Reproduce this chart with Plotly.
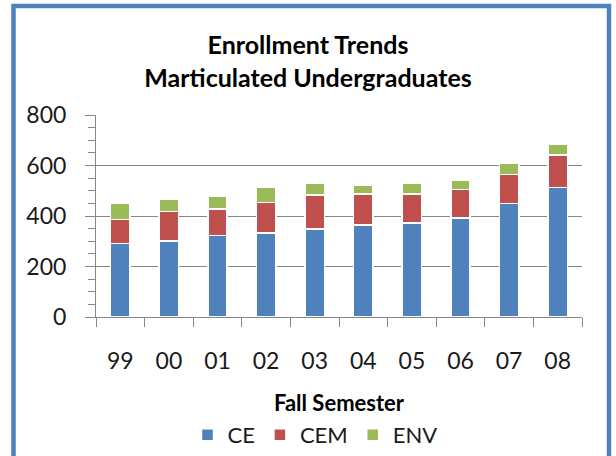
import plotly.graph_objects as go

semesters = ["99", "00", "01", "02", "03", "04", "05", "06", "07", "08"]
ce = [292, 301, 322, 333, 348, 364, 372, 393, 449, 512]
cem = [95, 116, 105, 121, 135, 124, 116, 111, 116, 130]
env = [64, 51, 51, 61, 47, 35, 40, 36, 45, 44]

series_names = ["CE", "CEM", "ENV"]
series_values = [ce, cem, env]
series_colors = ["#4F81BD", "#C0504D", "#9BBB59"]

W, H = 616, 456
L, R, T, B = 96, 34, 115, 139
pw, ph = W - L - R, H - T - B

FONT = "Lato"
GRID = "#868686"

fig = go.Figure()
for name, vals, col in zip(series_names, series_values, series_colors):
    fig.add_trace(go.Bar(
        x=semesters, y=vals, name=name,
        marker=dict(color=col, line=dict(color="white", width=1.5)),
    ))

def px_x(p):
    return (p - L) / pw

def px_y(p):
    return (H - B - p) / ph

fig.update_layout(
    width=W, height=H,
    margin=dict(l=L, r=R, t=T, b=B, autoexpand=False),
    barmode="stack",
    bargap=0.6,
    plot_bgcolor="white",
    paper_bgcolor="white",
    font=dict(family=FONT, color="#000000"),
    title=dict(
        text="<b>Enrollment Trends</b><br><b>Marticulated Undergraduates</b>",
        x=0.5, xref="container", xanchor="center",
        y=1 - 54 / H, yref="container", yanchor="top",
        font=dict(size=25, family=FONT, color="#000000"),
        automargin=False,
    ),
    xaxis=dict(
        automargin=False,
        showline=True, linecolor=GRID, linewidth=1,
        ticks="outside", tickson="boundaries", ticklen=9, tickcolor=GRID,
        tickfont=dict(size=23, family=FONT, color="#1a1a1a"),
        ticklabelstandoff=23,
        title=dict(text="<b>Fall Semester</b>", font=dict(size=22, family=FONT, color="#000000"), standoff=23),
        showgrid=False,
    ),
    yaxis=dict(
        automargin=False,
        range=[0, 800], dtick=200, tick0=0,
        showline=True, linecolor=GRID, linewidth=1,
        ticks="outside", ticklen=10, tickcolor=GRID,
        showgrid=True, gridcolor=GRID, gridwidth=1,
        zeroline=False,
        tickfont=dict(size=23, family=FONT, color="#1a1a1a"),
        ticklabelstandoff=14,
        minor=dict(dtick=50, ticks="outside", ticklen=7, tickcolor=GRID, showgrid=False),
    ),
    yaxis2=dict(
        automargin=False,
        range=[0, 800], dtick=200, tick0=0, overlaying="y", anchor="x", side="left",
        showline=False, showgrid=False, zeroline=False, showticklabels=False, ticks="",
        minor=dict(dtick=50, ticks="inside", ticklen=7, tickcolor=GRID, showgrid=False),
    ),
    legend=dict(
        orientation="h", x=0.5 - 24 / pw, xanchor="center",
        y=px_y(435), yanchor="middle",
        font=dict(size=22, family=FONT, color="#1a1a1a"),
        traceorder="normal", itemwidth=30,
    ),
    showlegend=True,
)

fig.add_shape(
    type="rect", xref="paper", yref="paper",
    x0=px_x(13.5), x1=px_x(609), y0=px_y(6), y1=px_y(480),
    line=dict(color="#4F81BD", width=4.5), fillcolor="rgba(0,0,0,0)",
    layer="above",
)

fig.write_html(
    "out.html",
    config={"displayModeBar": False},
    post_script="document.body.style.margin='0';document.body.style.overflow='hidden';",
)
